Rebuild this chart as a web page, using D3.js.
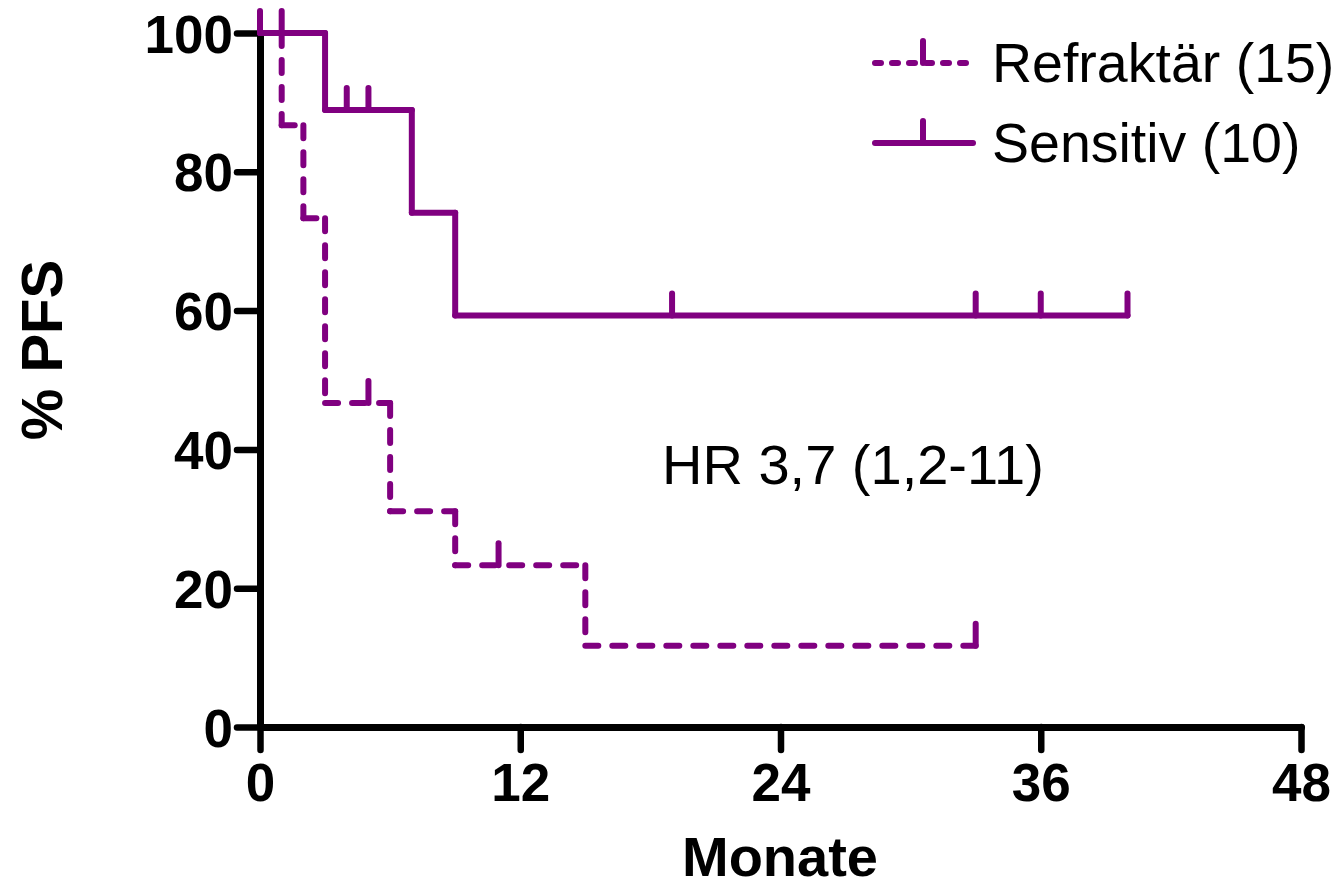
<!DOCTYPE html>
<html lang="de">
<head>
  <meta charset="UTF-8">
  <title>PFS Kaplan-Meier</title>
  <script src="https://d3js.org/d3.v7.min.js"></script>
  <style>
    body { margin: 0; background: #fff; }
    text { font-family: "Liberation Sans", Arial, sans-serif; }
  </style>
</head>
<body>
  <div id="chart"></div>
  <script>
    // step curves (time in months, survival in %)
    const refTime = [0, 1, 2, 3, 6, 9, 15, 33];
    const refSurv = [100, 86.7, 73.3, 46.7, 31.1, 23.3, 11.7, 11.7];
    const refCensTime = [1, 5, 11, 33];
    const refCensSurv = [100, 46.7, 23.3, 11.7];

    const sensTime = [0, 3, 7, 9, 40];
    const sensSurv = [100, 88.9, 74.1, 59.3, 59.3];
    const sensCensTime = [0, 4, 5, 19, 33, 36, 40];
    const sensCensSurv = [100, 88.9, 88.9, 59.3, 59.3, 59.3, 59.3];

    const xTicks = [0, 12, 24, 36, 48];
    const yTicks = [0, 20, 40, 60, 80, 100];
    const legendLabels = ["Refraktär (15)", "Sensitiv (10)"];
    const hrLabel = "HR 3,7 (1,2-11)";

    const svgWidth = 1342;
    const svgHeight = 888;
    const purple = "#800080";
    const dash = "13,14";

    const svg = d3.select("#chart")
      .append("svg")
      .attr("width", svgWidth)
      .attr("height", svgHeight);

    const xScale = d3.scaleLinear().domain([0, 48]).range([260, 1301]);
    const yScale = d3.scaleLinear().domain([0, 100]).range([727, 33]);

    // axes
    const xAxis = d3.axisBottom(xScale).tickValues(xTicks).tickSize(23).tickSizeOuter(0).tickPadding(13);
    const yAxis = d3.axisLeft(yScale).tickValues(yTicks).tickSize(23).tickSizeOuter(0).tickPadding(4);

    const gx = svg.append("g")
      .attr("transform", `translate(0, ${yScale(0)})`)
      .call(xAxis);
    const gy = svg.append("g")
      .attr("transform", `translate(${xScale(0)}, 0)`)
      .call(yAxis);

    [gx, gy].forEach(g => {
      g.select(".domain").attr("stroke", "#000").attr("stroke-width", 7).attr("stroke-linecap", "round");
      g.selectAll(".tick line").attr("stroke", "#000").attr("stroke-width", 6.5).attr("stroke-linecap", "round");
      g.selectAll(".tick text")
        .attr("fill", "#000")
        .style("font-size", "53px")
        .style("font-weight", "bold");
    });
    gx.selectAll(".tick text").attr("dy", "0.71em");
    gy.selectAll(".tick text").attr("dy", "0.36em");

    // curves drawn segment by segment so every dash starts at a corner
    const line = d3.line().x(d => xScale(d[0])).y(d => yScale(d[1]));

    function drawCurve(times, surv, dashed) {
      const segs = [];
      for (let i = 0; i < times.length - 1; i++) {
        segs.push([[times[i], surv[i]], [times[i + 1], surv[i]]]);
        if (surv[i + 1] !== surv[i]) {
          segs.push([[times[i + 1], surv[i]], [times[i + 1], surv[i + 1]]]);
        }
      }
      svg.append("g").selectAll("path")
        .data(segs)
        .enter()
        .append("path")
        .attr("d", line)
        .attr("fill", "none")
        .attr("stroke", purple)
        .attr("stroke-width", 6)
        .attr("stroke-linecap", "round")
        .attr("stroke-dasharray", dashed ? dash : null);
    }

    function drawCensors(times, surv) {
      svg.append("g").selectAll("line")
        .data(times.map((t, i) => [t, surv[i]]))
        .enter()
        .append("line")
        .attr("x1", d => xScale(d[0]))
        .attr("x2", d => xScale(d[0]))
        .attr("y1", d => yScale(d[1]))
        .attr("y2", d => yScale(d[1]) - 22)
        .attr("stroke", purple)
        .attr("stroke-width", 6)
        .attr("stroke-linecap", "round");
    }

    drawCurve(sensTime, sensSurv, false);
    drawCurve(refTime, refSurv, true);
    drawCensors(sensCensTime, sensCensSurv);
    drawCensors(refCensTime, refCensSurv);

    // axis titles
    svg.append("text")
      .attr("x", 780)
      .attr("y", 876)
      .attr("text-anchor", "middle")
      .style("font-size", "56px")
      .style("font-weight", "bold")
      .text("Monate");

    svg.append("text")
      .attr("transform", "translate(62, 350) rotate(-90)")
      .attr("text-anchor", "middle")
      .style("font-size", "58px")
      .style("font-weight", "bold")
      .text("% PFS");

    // legend
    const legend = svg.append("g");
    legendLabels.forEach((label, i) => {
      const y = 63 + i * 80;
      legend.append("line")
        .attr("x1", 875).attr("x2", 973)
        .attr("y1", y).attr("y2", y)
        .attr("stroke", purple)
        .attr("stroke-width", 6)
        .attr("stroke-linecap", "round")
        .attr("stroke-dasharray", i === 0 ? "6,11" : null);
      legend.append("line")
        .attr("x1", 923).attr("x2", 923)
        .attr("y1", y).attr("y2", y - 22)
        .attr("stroke", purple)
        .attr("stroke-width", 6)
        .attr("stroke-linecap", "round");
      legend.append("text")
        .attr("x", 992)
        .attr("y", y + 19)
        .style("font-size", "55.5px")
        .text(label);
    });

    svg.append("text")
      .attr("x", 662)
      .attr("y", 484)
      .style("font-size", "56px")
      .text(hrLabel);
  </script>
</body>
</html>
